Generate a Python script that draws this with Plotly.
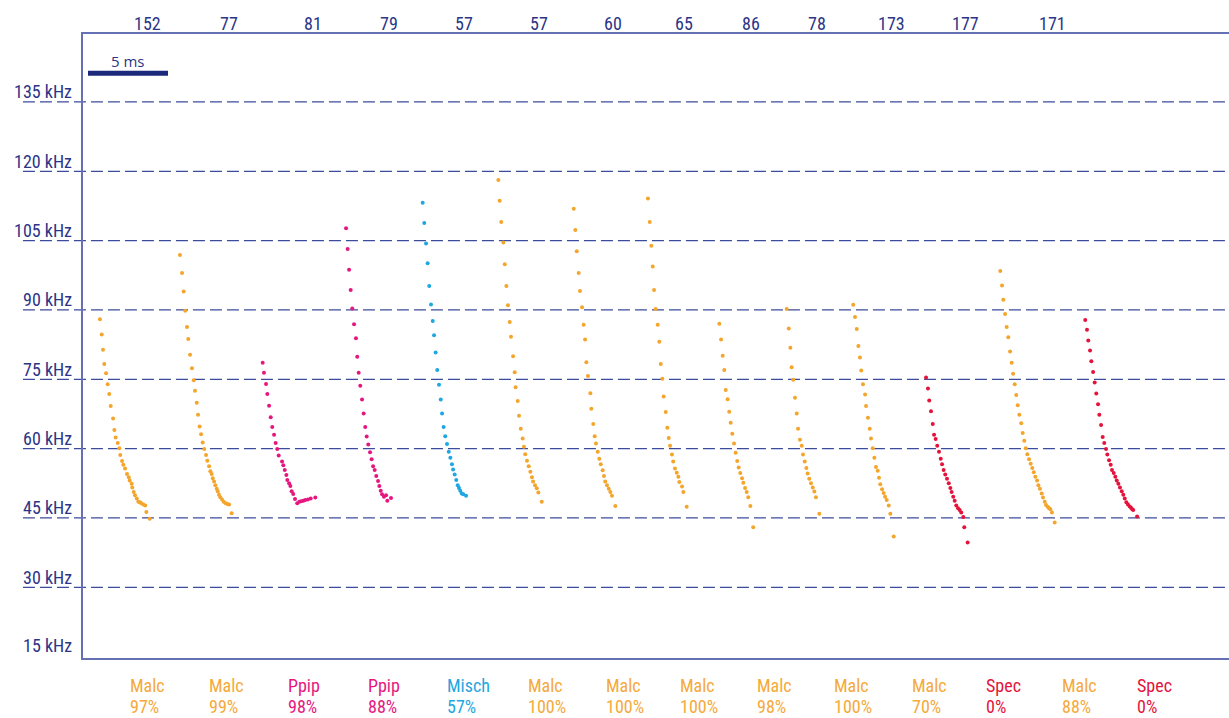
import plotly.graph_objects as go

# ---- call data: time (ms) and frequency (kHz) of each detected pulse ----
c1_t = [1.06, 1.17, 1.25, 1.33, 1.44, 1.54, 1.64, 1.73, 1.88, 1.96, 2.04, 2.17, 2.27, 2.33, 2.44, 2.52,
        2.63, 2.75, 2.86, 2.92, 3.04, 3.08, 3.17, 3.25, 3.36, 3.46, 3.56, 3.64, 3.77, 3.89, 3.96, 4.17]
c1_f = [88.0, 84.7, 81.4, 78.3, 76.3, 73.9, 71.8, 69.2, 66.5, 64.0, 62.4, 61.2, 60.1, 58.6, 57.3, 56.5,
        55.7, 54.5, 53.8, 53.1, 52.4, 51.6, 50.6, 49.9, 49.2, 48.5, 48.4, 48.2, 47.9, 47.7, 46.3, 44.8]

c2_t = [6.06, 6.19, 6.29, 6.39, 6.50, 6.58, 6.69, 6.81, 6.92, 7.00, 7.11, 7.19, 7.29, 7.38, 7.48, 7.58, 7.69,
        7.77, 7.88, 7.96, 8.04, 8.11, 8.19, 8.27, 8.36, 8.42, 8.50, 8.58, 8.69, 8.79, 8.92, 9.02, 9.13, 9.29]
c2_f = [101.9, 98.0, 94.0, 89.8, 86.3, 83.7, 80.3, 77.4, 74.8, 72.5, 69.9, 67.3, 64.8, 63.1, 61.3, 59.9, 58.6,
        57.4, 56.2, 55.1, 54.5, 53.6, 52.9, 52.1, 51.3, 50.8, 50.0, 49.5, 49.0, 48.5, 48.2, 48.0, 47.9, 46.0]

c3_t = [11.23, 11.31, 11.44, 11.52, 11.63, 11.73, 11.83, 11.94, 12.04, 12.14, 12.23, 12.44, 12.52, 12.61, 12.71,
        12.77, 12.88, 12.96, 13.04, 13.14, 13.25, 13.39, 13.52, 13.64, 13.77, 13.89, 14.06, 14.23, 14.52]
c3_f = [78.6, 76.4, 74.0, 71.8, 69.3, 66.8, 64.7, 63.0, 61.2, 59.9, 58.5, 57.2, 56.4, 55.4, 54.3,
        53.2, 52.5, 51.9, 50.8, 50.2, 49.1, 48.2, 48.5, 48.6, 48.7, 48.9, 49.0, 49.2, 49.4]

c4_t = [16.44, 16.54, 16.63, 16.73, 16.83, 16.94, 17.06, 17.14, 17.23, 17.33, 17.44, 17.54, 17.64, 17.73,
        17.83, 17.94, 18.04, 18.13, 18.23, 18.33, 18.44, 18.52, 18.61, 18.69, 18.81, 18.94, 19.02, 19.25]
c4_f = [107.7, 103.2, 98.7, 94.3, 90.3, 86.9, 83.9, 79.9, 76.4, 73.6, 70.6, 67.6, 64.7, 62.6,
        60.9, 59.2, 57.7, 56.2, 55.4, 54.1, 53.0, 51.9, 50.9, 50.1, 49.6, 49.9, 48.7, 49.3]

c5_t = [21.23, 21.33, 21.44, 21.54, 21.64, 21.75, 21.86, 21.94, 22.04, 22.14, 22.25, 22.36, 22.44, 22.54,
        22.64, 22.75, 22.86, 22.96, 23.06, 23.13, 23.23, 23.33, 23.42, 23.50, 23.58, 23.67, 23.77, 23.94]
c5_f = [113.2, 108.8, 104.4, 100.1, 95.2, 91.2, 87.6, 84.5, 80.8, 77.0, 73.8, 70.6, 67.6, 64.7,
        62.7, 61.0, 59.3, 58.0, 56.6, 55.5, 54.4, 53.2, 52.1, 51.5, 50.9, 50.3, 50.1, 49.8]

c6_t = [25.96, 26.04, 26.14, 26.27, 26.36, 26.46, 26.56, 26.67, 26.75, 26.88, 26.98, 27.04, 27.17, 27.25,
        27.36, 27.48, 27.56, 27.64, 27.75, 27.86, 27.96, 28.06, 28.13, 28.25, 28.36, 28.46, 28.67]
c6_f = [118.1, 113.6, 109.0, 104.6, 99.9, 95.2, 91.0, 87.4, 84.2, 80.0, 76.5, 73.3, 70.3, 67.1,
        64.3, 62.2, 60.4, 58.8, 57.4, 56.2, 55.0, 53.8, 52.9, 52.1, 51.4, 50.5, 48.5]

c7_t = [30.67, 30.77, 30.86, 30.98, 31.06, 31.19, 31.29, 31.38, 31.46, 31.56, 31.71, 31.77, 31.89,
        31.98, 32.06, 32.17, 32.27, 32.36, 32.48, 32.56, 32.64, 32.75, 32.86, 32.96, 33.06, 33.27]
c7_f = [111.9, 107.3, 102.7, 98.0, 94.1, 90.6, 86.8, 83.6, 78.7, 75.7, 72.0, 68.6, 65.3,
        62.7, 61.1, 59.3, 57.8, 56.6, 55.3, 54.1, 52.9, 52.1, 51.3, 50.6, 49.8, 47.6]

c8_t = [35.31, 35.42, 35.52, 35.61, 35.69, 35.79, 35.92, 36.02, 36.11, 36.21, 36.29, 36.42,
        36.52, 36.61, 36.69, 36.81, 36.89, 37.00, 37.11, 37.21, 37.27, 37.44, 37.52, 37.73]
c8_f = [114.1, 109.0, 103.9, 99.4, 94.3, 90.2, 86.8, 83.1, 78.3, 75.1, 71.3, 67.9,
        64.5, 62.3, 60.6, 58.7, 57.2, 55.7, 54.8, 53.9, 52.8, 51.8, 50.6, 47.4]

c9_t = [39.77, 39.88, 39.98, 40.08, 40.17, 40.29, 40.39, 40.48, 40.58, 40.69, 40.79,
        40.89, 40.98, 41.08, 41.19, 41.27, 41.38, 41.48, 41.58, 41.71, 41.89]
c9_f = [87.0, 83.6, 80.1, 77.0, 72.7, 70.7, 68.0, 65.6, 63.2, 61.1, 59.1,
        57.3, 55.9, 54.7, 53.6, 52.6, 51.5, 50.6, 49.5, 47.6, 43.0]

c10_t = [43.98, 44.11, 44.21, 44.29, 44.39, 44.50, 44.61, 44.69, 44.81, 44.92,
         45.00, 45.11, 45.21, 45.29, 45.39, 45.50, 45.61, 45.71, 45.81, 46.02]
c10_f = [90.2, 86.0, 81.8, 77.6, 74.9, 71.0, 67.6, 64.3, 61.9, 60.6,
         58.7, 57.2, 55.8, 54.6, 53.5, 52.5, 51.6, 50.7, 49.5, 45.9]

c11_t = [48.14, 48.25, 48.36, 48.46, 48.56, 48.64, 48.75, 48.88, 48.94, 49.06, 49.17, 49.25, 49.36,
         49.46, 49.56, 49.67, 49.75, 49.83, 49.94, 50.04, 50.13, 50.23, 50.36, 50.46, 50.67]
c11_f = [91.1, 88.5, 85.9, 82.2, 79.7, 76.9, 73.9, 71.7, 69.2, 66.7, 64.3, 62.2, 60.1,
         58.0, 56.0, 55.2, 53.7, 52.3, 51.2, 50.4, 49.6, 48.9, 47.7, 45.9, 41.0]

c12_t = [52.69, 52.81, 52.89, 53.00, 53.11, 53.19, 53.29, 53.39, 53.50, 53.61, 53.69, 53.79, 53.89,
         54.00, 54.11, 54.21, 54.29, 54.39, 54.48, 54.58, 54.69, 54.79, 54.89, 55.02, 55.08, 55.29]
c12_f = [75.4, 73.0, 70.4, 68.1, 65.3, 63.0, 62.1, 60.6, 59.3, 57.8, 56.6, 55.4, 54.4,
         53.5, 52.5, 51.5, 50.6, 49.6, 48.7, 47.7, 47.1, 46.7, 46.2, 45.2, 43.0, 39.7]

c13_t = [57.33, 57.44, 57.52, 57.63, 57.73, 57.83, 57.94, 58.04, 58.13, 58.23, 58.33, 58.42,
         58.52, 58.64, 58.73, 58.83, 58.92, 59.02, 59.13, 59.23, 59.33, 59.42, 59.52, 59.63,
         59.71, 59.81, 59.92, 60.00, 60.11, 60.19, 60.29, 60.38, 60.46, 60.56, 60.73]
c13_f = [98.4, 95.3, 92.2, 89.1, 86.3, 84.1, 81.0, 78.6, 76.2, 73.9, 71.6, 69.4,
         67.3, 65.5, 63.4, 61.7, 60.1, 58.8, 57.7, 56.7, 55.8, 54.9, 53.9, 53.1,
         52.1, 51.3, 50.3, 49.4, 48.5, 47.8, 47.4, 47.1, 46.9, 46.2, 44.0]

c14_t = [62.64, 62.75, 62.83, 62.94, 63.02, 63.13, 63.23, 63.33, 63.44, 63.52, 63.63, 63.73,
         63.83, 63.94, 64.02, 64.13, 64.23, 64.31, 64.42, 64.52, 64.61, 64.71, 64.81, 64.92,
         65.02, 65.11, 65.21, 65.31, 65.42, 65.50, 65.58, 65.64, 65.88]
c14_f = [87.8, 85.7, 83.4, 81.2, 78.9, 76.6, 74.3, 71.9, 69.6, 67.3, 65.1, 62.5,
         61.2, 59.9, 58.7, 57.5, 56.5, 55.4, 54.7, 53.9, 53.1, 52.4, 51.6, 50.8,
         50.0, 49.2, 48.4, 47.9, 47.5, 47.2, 46.9, 46.7, 45.3]

species = ["Malc", "Malc", "Ppip", "Ppip", "Misch", "Malc", "Malc",
           "Malc", "Malc", "Malc", "Malc", "Spec", "Malc", "Spec"]
scores = ["97%", "99%", "98%", "88%", "57%", "100%", "100%",
          "100%", "98%", "100%", "70%", "0%", "88%", "0%"]
call_ids = ["152", "77", "81", "79", "57", "57", "60", "65", "86", "78", "173", "177", "171"]
freq_ticks = [15, 30, 45, 60, 75, 90, 105, 120, 135]

calls_t = [c1_t, c2_t, c3_t, c4_t, c5_t, c6_t, c7_t, c8_t, c9_t, c10_t, c11_t, c12_t, c13_t, c14_t]
calls_f = [c1_f, c2_f, c3_f, c4_f, c5_f, c6_f, c7_f, c8_f, c9_f, c10_f, c11_f, c12_f, c13_f, c14_f]

# ---- styling ----
dot_color = {"Malc": "#f4a52c", "Ppip": "#e5177f", "Misch": "#1ea7e0", "Spec": "#e3133c"}
label_color = {"Malc": "#f5a93a", "Ppip": "#e5177f", "Misch": "#1ea7e0", "Spec": "#e3133c"}
NAVY = "#2b3587"
GRID = "#3d4b9c"
AXIS = "#6670b4"
NARROW = "Liberation Sans Narrow, Arial Narrow, Roboto Condensed, sans-serif"
TXT = 18

X_MAX = 71.625
Y_RANGE = [14.7, 149.7]
# left edge (ms) of each species/score label under the axis
label_left = [2.79, 7.73, 12.69, 17.69, 22.63, 27.69, 32.56, 37.19, 42.0, 46.81, 51.69, 56.31, 61.06, 65.75]

fig = go.Figure()
for t, f, sp in zip(calls_t, calls_f, species):
    fig.add_trace(go.Scatter(x=t, y=f, mode="markers",
                             marker=dict(size=4, color=dot_color[sp]),
                             showlegend=False, hoverinfo="x+y"))

shapes = []
annotations = []

# dashed frequency guides, running into the label column
for fv in freq_ticks[1:]:
    shapes.append(dict(type="line", xref="paper", yref="y", x0=-0.0524, x1=1, y0=fv, y1=fv,
                       line=dict(color=GRID, width=1.3, dash="12px,5px"), layer="below"))
for fv in freq_ticks:
    annotations.append(dict(x=-0.0078, xref="paper", y=fv, yref="y", yshift=10 if fv > 15 else 11,
                            text=f"{fv} kHz", showarrow=False, xanchor="right", yanchor="middle",
                            font=dict(family=NARROW, size=TXT, color=NAVY)))

# call numbers above the frame, near the end of each call
for cid, t in zip(call_ids, calls_t):
    annotations.append(dict(x=max(t) - 0.15, xref="x", y=1.0175, yref="paper", text=cid,
                            showarrow=False, xanchor="center", yanchor="middle",
                            font=dict(family=NARROW, size=TXT, color=NAVY)))

# species and score under the frame
for x0, sp, sc in zip(label_left, species, scores):
    col = label_color[sp]
    annotations.append(dict(x=x0, xref="x", y=-0.0433, yref="paper", text=sp, showarrow=False,
                            xanchor="left", yanchor="middle",
                            font=dict(family=NARROW, size=TXT, color=col)))
    annotations.append(dict(x=x0, xref="x", y=-0.0785, yref="paper", text=sc, showarrow=False,
                            xanchor="left", yanchor="middle",
                            font=dict(family=NARROW, size=TXT, color=col)))

# 5 ms scale bar
shapes.append(dict(type="line", xref="x", yref="y", x0=0.3125, x1=5.3125, y0=141.2, y1=141.2,
                   line=dict(color="#1c2a7c", width=5)))
annotations.append(dict(x=2.81, xref="x", y=143.9, yref="y", text="5 ms", showarrow=False,
                        xanchor="center", yanchor="middle",
                        font=dict(family="Open Sans, sans-serif", size=15, color=NAVY)))

fig.update_layout(
    width=1229, height=718,
    margin=dict(l=83, r=0, t=34, b=60),
    paper_bgcolor="white", plot_bgcolor="white",
    shapes=shapes, annotations=annotations,
    xaxis=dict(range=[0, X_MAX], showgrid=False, zeroline=False, showticklabels=False,
               ticks="", showline=True, linecolor=AXIS, linewidth=1.5, mirror=True),
    yaxis=dict(range=Y_RANGE, showgrid=False, zeroline=False, showticklabels=False,
               ticks="", showline=True, linecolor=AXIS, linewidth=1.5),
)

fig.write_html("out.html")
